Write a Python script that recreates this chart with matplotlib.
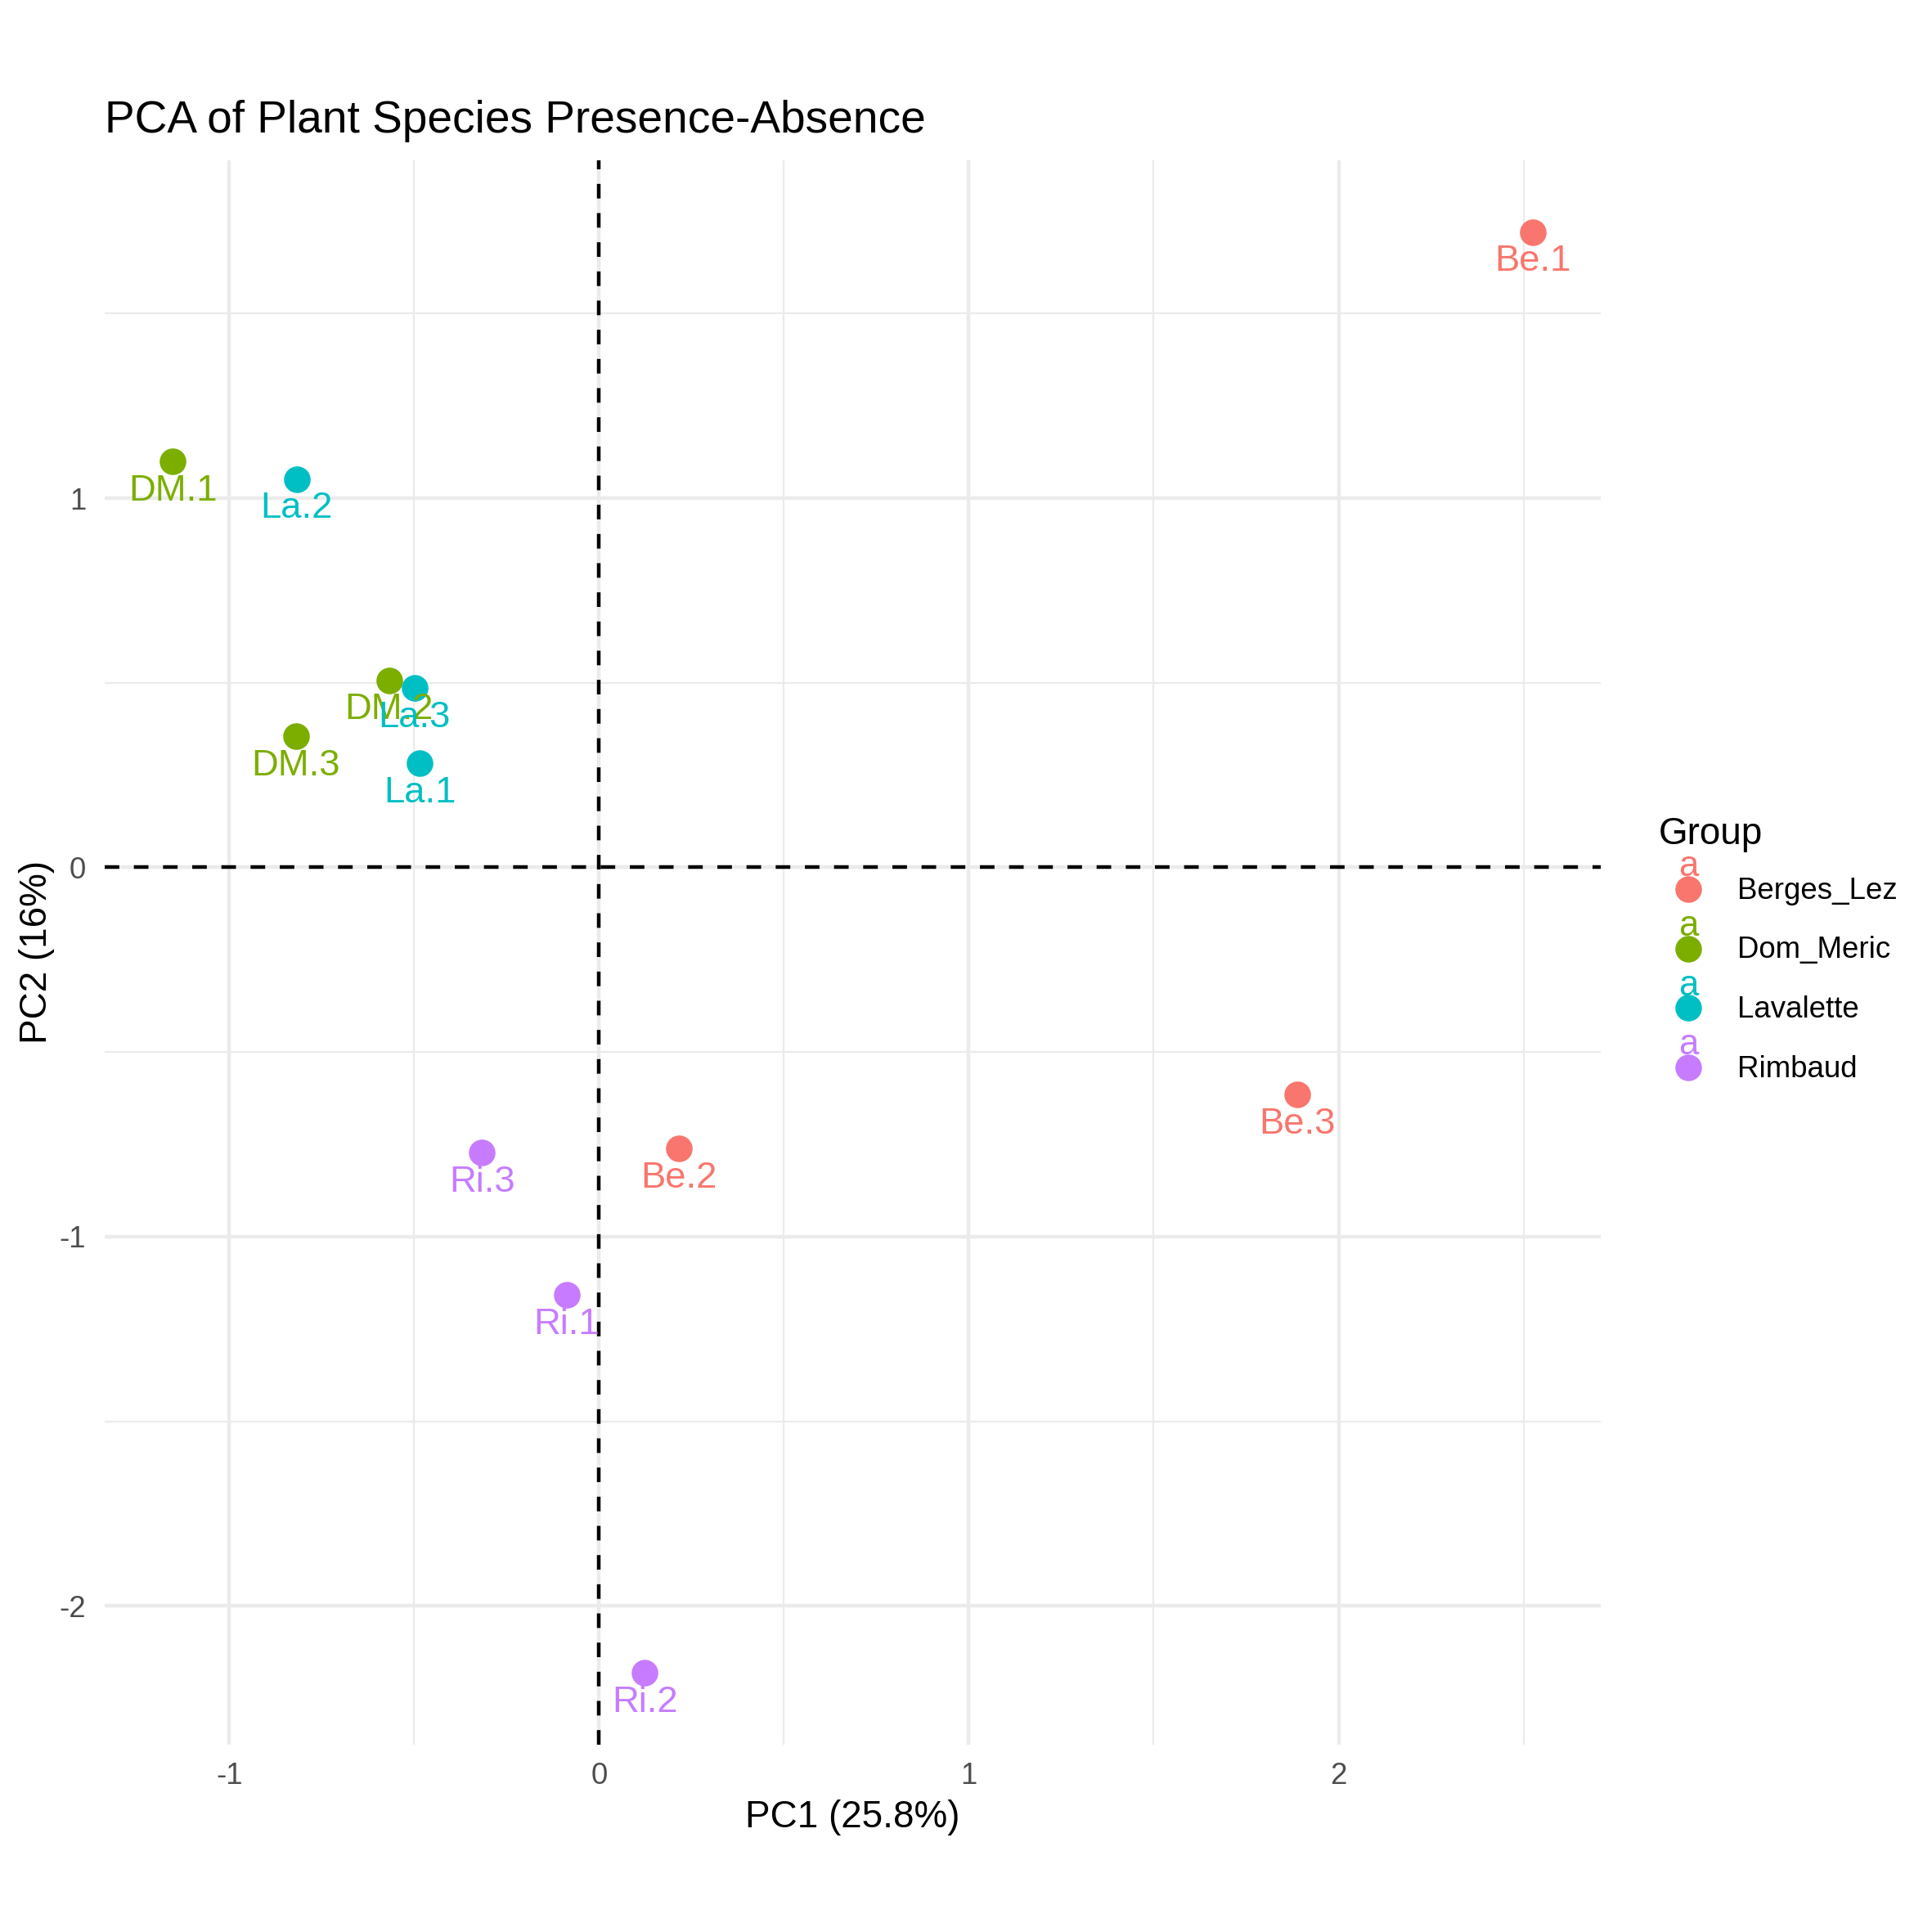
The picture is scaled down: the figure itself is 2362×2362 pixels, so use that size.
import matplotlib
matplotlib.use("Agg")
import matplotlib.pyplot as plt
from matplotlib.legend_handler import HandlerBase
from matplotlib.lines import Line2D
from matplotlib.text import Text
from matplotlib.ticker import MultipleLocator

plt.rcParams['font.family'] = ['Liberation Sans', 'DejaVu Sans']

# sample scores
samples = ['Be.1', 'Be.2', 'Be.3', 'DM.1', 'DM.2', 'DM.3',
           'La.1', 'La.2', 'La.3', 'Ri.1', 'Ri.2', 'Ri.3']
groups = ['Berges_Lez'] * 3 + ['Dom_Meric'] * 3 + ['Lavalette'] * 3 + ['Rimbaud'] * 3
pc1 = [2.525, 0.215, 1.888, -1.153, -0.568, -0.820,
       -0.485, -0.818, -0.499, -0.087, 0.124, -0.317]
pc2 = [1.721, -0.762, -0.616, 1.099, 0.507, 0.355,
       0.282, 1.052, 0.487, -1.158, -2.181, -0.773]

group_names = ['Berges_Lez', 'Dom_Meric', 'Lavalette', 'Rimbaud']
group_colors = ['#F8766D', '#7CAE00', '#00BFC4', '#C77CFF']
color_of = dict(zip(group_names, group_colors))


class PointTextHandler(HandlerBase):
    # ggplot style key: a point with a little "a" on top of it
    def create_artists(self, legend, orig_handle, xdescent, ydescent,
                       width, height, fontsize, trans):
        c = orig_handle.get_color()
        cx = width / 2 - xdescent
        cy = height / 2 - ydescent
        dot = Line2D([cx], [cy], marker='o', markersize=7.8, color=c,
                     linestyle='', markeredgewidth=0)
        txt = Text(cx, cy + 3.8, 'a', color=c, ha='center', va='baseline',
                   fontsize=10.5)
        dot.set_transform(trans)
        txt.set_transform(trans)
        return [txt, dot]


fig = plt.figure(figsize=(2362 / 300, 2362 / 300), dpi=300)
ax = fig.add_axes([128 / 2362, 1 - 2133 / 2362, (1957 - 128) / 2362, (2133 - 195.5) / 2362])

# grid like theme_minimal
ax.xaxis.set_major_locator(MultipleLocator(1))
ax.yaxis.set_major_locator(MultipleLocator(1))
ax.xaxis.set_minor_locator(MultipleLocator(0.5))
ax.yaxis.set_minor_locator(MultipleLocator(0.5))
ax.grid(which='major', color='#EBEBEB', linewidth=1.07)
ax.grid(which='minor', color='#EBEBEB', linewidth=0.53)
ax.set_axisbelow(True)
for s in ax.spines.values():
    s.set_visible(False)
ax.tick_params(which='both', length=0)
ax.tick_params(axis='x', pad=5.0, labelsize=8.8, labelcolor='#4D4D4D')
ax.tick_params(axis='y', pad=5.5, labelsize=8.8, labelcolor='#4D4D4D')

ax.axhline(0, color='black', linewidth=1.07, dashes=(4, 4), zorder=2)
ax.axvline(0, color='black', linewidth=1.07, dashes=(4, 4), zorder=2)

for x, y, g in zip(pc1, pc2, groups):
    ax.scatter([x], [y], s=61, color=color_of[g], linewidths=0, zorder=3)

for x, y, lab, g in zip(pc1, pc2, samples, groups):
    ax.annotate(lab, (x, y), xytext=(0, -11.5), textcoords='offset points',
                ha='center', va='baseline', fontsize=10.9, color=color_of[g], zorder=4)

xr = max(pc1) - min(pc1)
yr = max(pc2) - min(pc2)
ax.set_xlim(min(pc1) - 0.05 * xr, max(pc1) + 0.05 * xr)
ax.set_ylim(min(pc2) - 0.05 * yr, max(pc2) + 0.05 * yr)
ax.set_xticks([-1, 0, 1, 2])
ax.set_yticks([-2, -1, 0, 1])
ax.set_xticklabels(['-1', '0', '1', '2'])
ax.set_yticklabels(['-2', '-1', '0', '1'])

ax.set_xlabel('PC1 (25.8%)', fontsize=11, labelpad=2.8)
ax.set_ylabel('PC2 (16%)', fontsize=11, labelpad=1.2)
ax.set_title('PCA of Plant Species Presence-Absence', loc='left', fontsize=13.2, pad=8)

handles = [Line2D([], [], color=c) for c in group_colors]
leg = fig.legend(handles, group_names, title='Group', loc='center left',
                 bbox_to_anchor=(2028 / 2362, 0.5065), frameon=False,
                 fontsize=8.8, title_fontsize=11, borderpad=0, borderaxespad=0,
                 handlelength=1.97, handleheight=1.97, labelspacing=0.46,
                 handletextpad=0.65, alignment='left',
                 handler_map={Line2D: PointTextHandler()})

fig.savefig('out.png', dpi=300, facecolor='white')
